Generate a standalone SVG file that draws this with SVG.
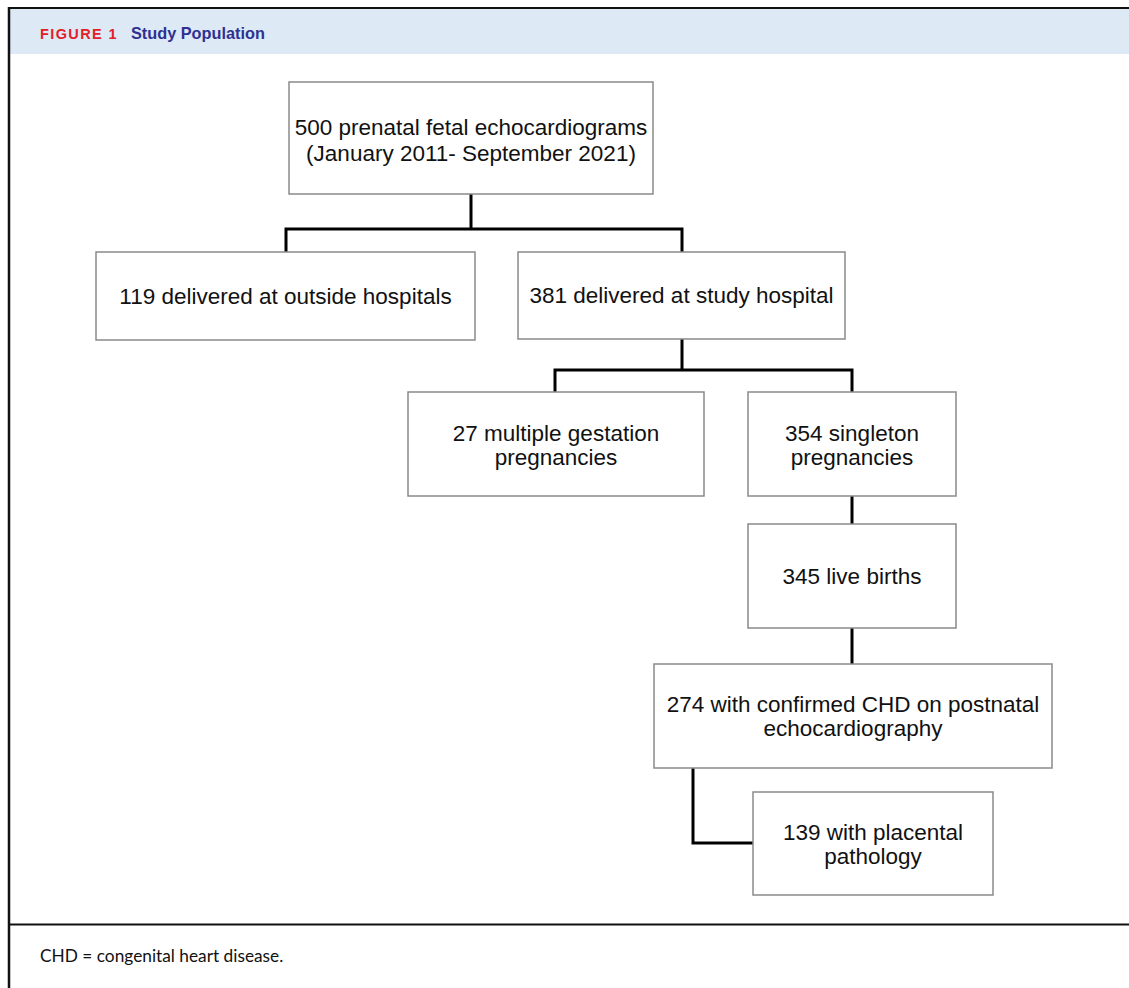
<svg xmlns="http://www.w3.org/2000/svg" width="1129" height="988" viewBox="0 0 1129 988">
<style>
.box{fill:#fff;stroke:#8a8a8a;stroke-width:1.5}
.t{font-family:"Liberation Sans",Arial,sans-serif;font-size:22.5px;fill:#111;text-anchor:middle}
.c{fill:none;stroke:#000;stroke-width:3}
</style>
<rect x="0" y="0" width="1129" height="988" fill="#fff"/>
<rect x="9" y="9" width="1125" height="45" fill="#dde9f5"/>
<line x1="8" y1="8" x2="1129" y2="8" stroke="#111" stroke-width="2"/>
<line x1="9" y1="7" x2="9" y2="988" stroke="#111" stroke-width="2.5"/>
<line x1="9" y1="924.5" x2="1129" y2="924.5" stroke="#111" stroke-width="2"/>
<text x="40" y="38.5" font-family="'Liberation Sans',Arial,sans-serif" font-size="14.5" font-weight="bold" fill="#e32028" letter-spacing="1.4">FIGURE 1</text>
<text x="131" y="39" font-family="'Liberation Sans',Arial,sans-serif" font-size="16.3" font-weight="bold" fill="#2e3192">Study Population</text>
<text x="40" y="962" font-family="Lato,'Liberation Sans',sans-serif" font-size="17.3" fill="#111">CHD = congenital heart disease.</text>
<g id="connectors">
<path class="c" d="M471 194V229M286 252V229H682V252"/>
<path class="c" d="M682 339V370M555 392V370H852V392"/>
<path class="c" d="M852 496V524"/>
<path class="c" d="M852 628V664"/>
<path class="c" d="M693 768V843H753"/>
</g>
<g id="n500"><rect class="box" x="289" y="82" width="364" height="112"/><text class="t" x="471" y="135">500 prenatal fetal echocardiograms</text><text class="t" x="471" y="161">(January 2011- September 2021)</text></g>
<g id="n119"><rect class="box" x="96" y="252" width="379" height="88"/><text class="t" x="285.5" y="304">119 delivered at outside hospitals</text></g>
<g id="n381"><rect class="box" x="518" y="252" width="327" height="87"/><text class="t" x="681.5" y="303">381 delivered at study hospital</text></g>
<g id="n27"><rect class="box" x="408" y="392" width="296" height="104"/><text class="t" x="556" y="441">27 multiple gestation</text><text class="t" x="556" y="465">pregnancies</text></g>
<g id="n354"><rect class="box" x="748" y="392" width="208" height="104"/><text class="t" x="852" y="441">354 singleton</text><text class="t" x="852" y="465">pregnancies</text></g>
<g id="n345"><rect class="box" x="748" y="524" width="208" height="104"/><text class="t" x="852" y="584">345 live births</text></g>
<g id="n274"><rect class="box" x="654" y="664" width="398" height="104"/><text class="t" x="853" y="712">274 with confirmed CHD on postnatal</text><text class="t" x="853" y="736">echocardiography</text></g>
<g id="n139"><rect class="box" x="753" y="792" width="240" height="103"/><text class="t" x="873" y="840">139 with placental</text><text class="t" x="873" y="864">pathology</text></g>
</svg>
